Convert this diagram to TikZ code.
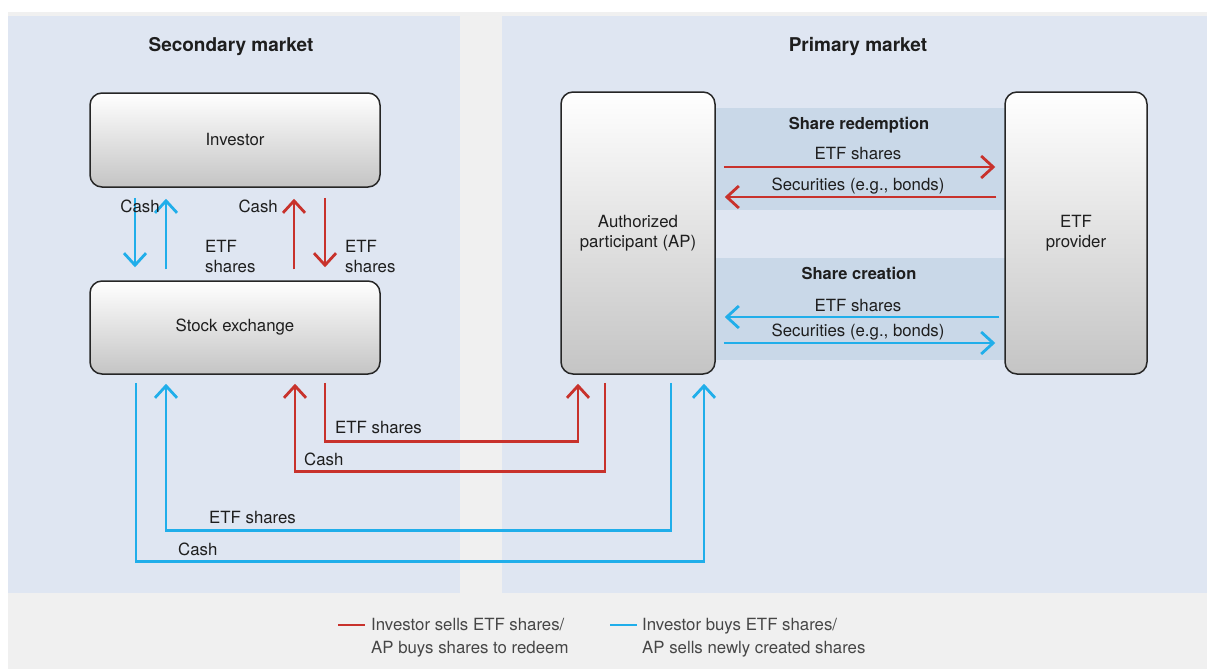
\documentclass[tikz,border=0pt]{standalone}
\usepackage{fontspec}
\setmainfont{TeX Gyre Heros}
\usetikzlibrary{arrows.meta}
\definecolor{bggray}{RGB}{240,240,240}
\definecolor{panel}{RGB}{223,230,242}
\definecolor{band}{RGB}{201,216,232}
\definecolor{redc}{RGB}{200,50,44}
\definecolor{bluec}{RGB}{32,174,234}
\definecolor{txt}{RGB}{30,30,30}
\definecolor{legtxt}{RGB}{70,70,70}
\tikzset{
  box/.style={draw=black!85, line width=1.5pt, rounded corners=12pt, top color=white, bottom color=black!23, text=txt, align=center, font=\fontsize{16.8}{20}\selectfont},
  arr/.style={line width=2.8pt, -{Straight Barb[length=12pt,width=22pt]}},
  redarr/.style={arr, draw=redc},
  bluearr/.style={arr, draw=bluec},
  lbl/.style={text=txt, font=\fontsize{16.8}{20}\selectfont, inner sep=0pt, align=left},
  ttl/.style={text=txt, font=\fontsize{19}{22}\selectfont\bfseries, inner sep=0pt},
  bandttl/.style={text=txt, font=\fontsize{16.5}{20}\selectfont\bfseries, inner sep=0pt},
  leg/.style={text=legtxt, font=\fontsize{16.8}{23}\selectfont, inner sep=0pt, align=left, anchor=west},
}
\begin{document}
\begin{tikzpicture}[x=1pt,y=-1pt]
\useasboundingbox (0,0) rectangle (1207,669);
\fill[white] (0,0) rectangle (1207,669);
\fill[bggray] (8,12) rectangle (1207,669);
\fill[panel] (8,16) rectangle (460,593);
\fill[panel] (502,16) rectangle (1207,593);
\fill[band] (715,108) rectangle (1005,210);
\fill[band] (715,258) rectangle (1005,360);

\node[ttl] (t1) at (231,47) {Secondary market};
\node[ttl] (t2) at (858,47) {Primary market};

\node[box, minimum width=290pt, minimum height=94pt] (inv) at (235,140) {Investor};
\node[box, minimum width=290pt, minimum height=93pt] (se) at (235,327.5) {Stock exchange};
\node[box, minimum width=154pt, minimum height=282pt] (ap) at (638,233) {Authorized\\participant (AP)};
\node[box, minimum width=142pt, minimum height=282pt] (etfp) at (1076,233) {ETF\\provider};

% investor <-> stock exchange
\draw[bluearr] ([xshift=-100pt,yshift=-10pt]inv.south) -- ([xshift=-100pt,yshift=13pt]se.north);
\draw[bluearr] ([xshift=-69pt,yshift=11pt]se.north) -- ([xshift=-69pt,yshift=-11pt]inv.south);
\draw[redarr] ([xshift=59pt,yshift=11pt]se.north) -- ([xshift=59pt,yshift=-11pt]inv.south);
\draw[redarr] ([xshift=90pt,yshift=-10pt]inv.south) -- ([xshift=90pt,yshift=13pt]se.north);
\node[lbl] (c1) at (140,206) {Cash};
\node[lbl, anchor=east] (c2) at (278,206) {Cash};
\node[lbl, anchor=west] (e1) at (205,256) {ETF\\shares};
\node[lbl, anchor=west] (e2) at (345,256) {ETF\\shares};

% AP <-> ETF provider
\node[bandttl] (sr) at (859,125) {Share redemption};
\node[bandttl] (sc) at (859,273) {Share creation};
\draw[redarr] ([xshift=8pt,yshift=66pt]ap.east) -- ([xshift=-9pt,yshift=66pt]etfp.west);
\draw[redarr] ([xshift=-8pt,yshift=36pt]etfp.west) -- ([xshift=9pt,yshift=36pt]ap.east);
\draw[bluearr] ([xshift=-5pt,yshift=-84pt]etfp.west) -- ([xshift=9pt,yshift=-84pt]ap.east);
\draw[bluearr] ([xshift=8pt,yshift=-110pt]ap.east) -- ([xshift=-9pt,yshift=-110pt]etfp.west);
\node[lbl] (l1) at (858,154) {ETF shares};
\node[lbl] (l2) at (858,186) {Securities (e.g., bonds)};
\node[lbl] (l3) at (858,305) {ETF shares};
\node[lbl] (l4) at (858,332) {Securities (e.g., bonds)};

% bottom connectors
\draw[redarr] ([xshift=90pt,yshift=-8pt]se.south) |- ([xshift=-60pt,yshift=-67pt]ap.south) -- ([xshift=-60pt,yshift=-9pt]ap.south);
\draw[redarr] ([xshift=-33pt,yshift=-8pt]ap.south) |- ([xshift=60pt,yshift=-97pt]se.south) -- ([xshift=60pt,yshift=-9pt]se.south);
\draw[bluearr] ([xshift=33pt,yshift=-8pt]ap.south) |- ([xshift=-69pt,yshift=-156pt]se.south) -- ([xshift=-69pt,yshift=-9pt]se.south);
\draw[bluearr] ([xshift=-99pt,yshift=-8pt]se.south) |- ([xshift=66pt,yshift=-187pt]ap.south) -- ([xshift=66pt,yshift=-9pt]ap.south);
\node[lbl, anchor=west] (b1) at (335,427) {ETF shares};
\node[lbl, anchor=west] (b2) at (304,459) {Cash};
\node[lbl, anchor=west] (b3) at (209,517) {ETF shares};
\node[lbl, anchor=west] (b4) at (178,549) {Cash};

% legend
\coordinate (lr1) at (338,625);
\coordinate (lr2) at (365,625);
\coordinate (lb1) at (610,625);
\coordinate (lb2) at (637,625);
\draw[redc, line width=2.5pt] (lr1) -- (lr2);
\draw[bluec, line width=2.5pt] (lb1) -- (lb2);
\node[leg] (g1) at (371,638) {Investor sells ETF shares/\\AP buys shares to redeem};
\node[leg] (g2) at (642,638) {Investor buys ETF shares/\\AP sells newly created shares};
\end{tikzpicture}
\end{document}
